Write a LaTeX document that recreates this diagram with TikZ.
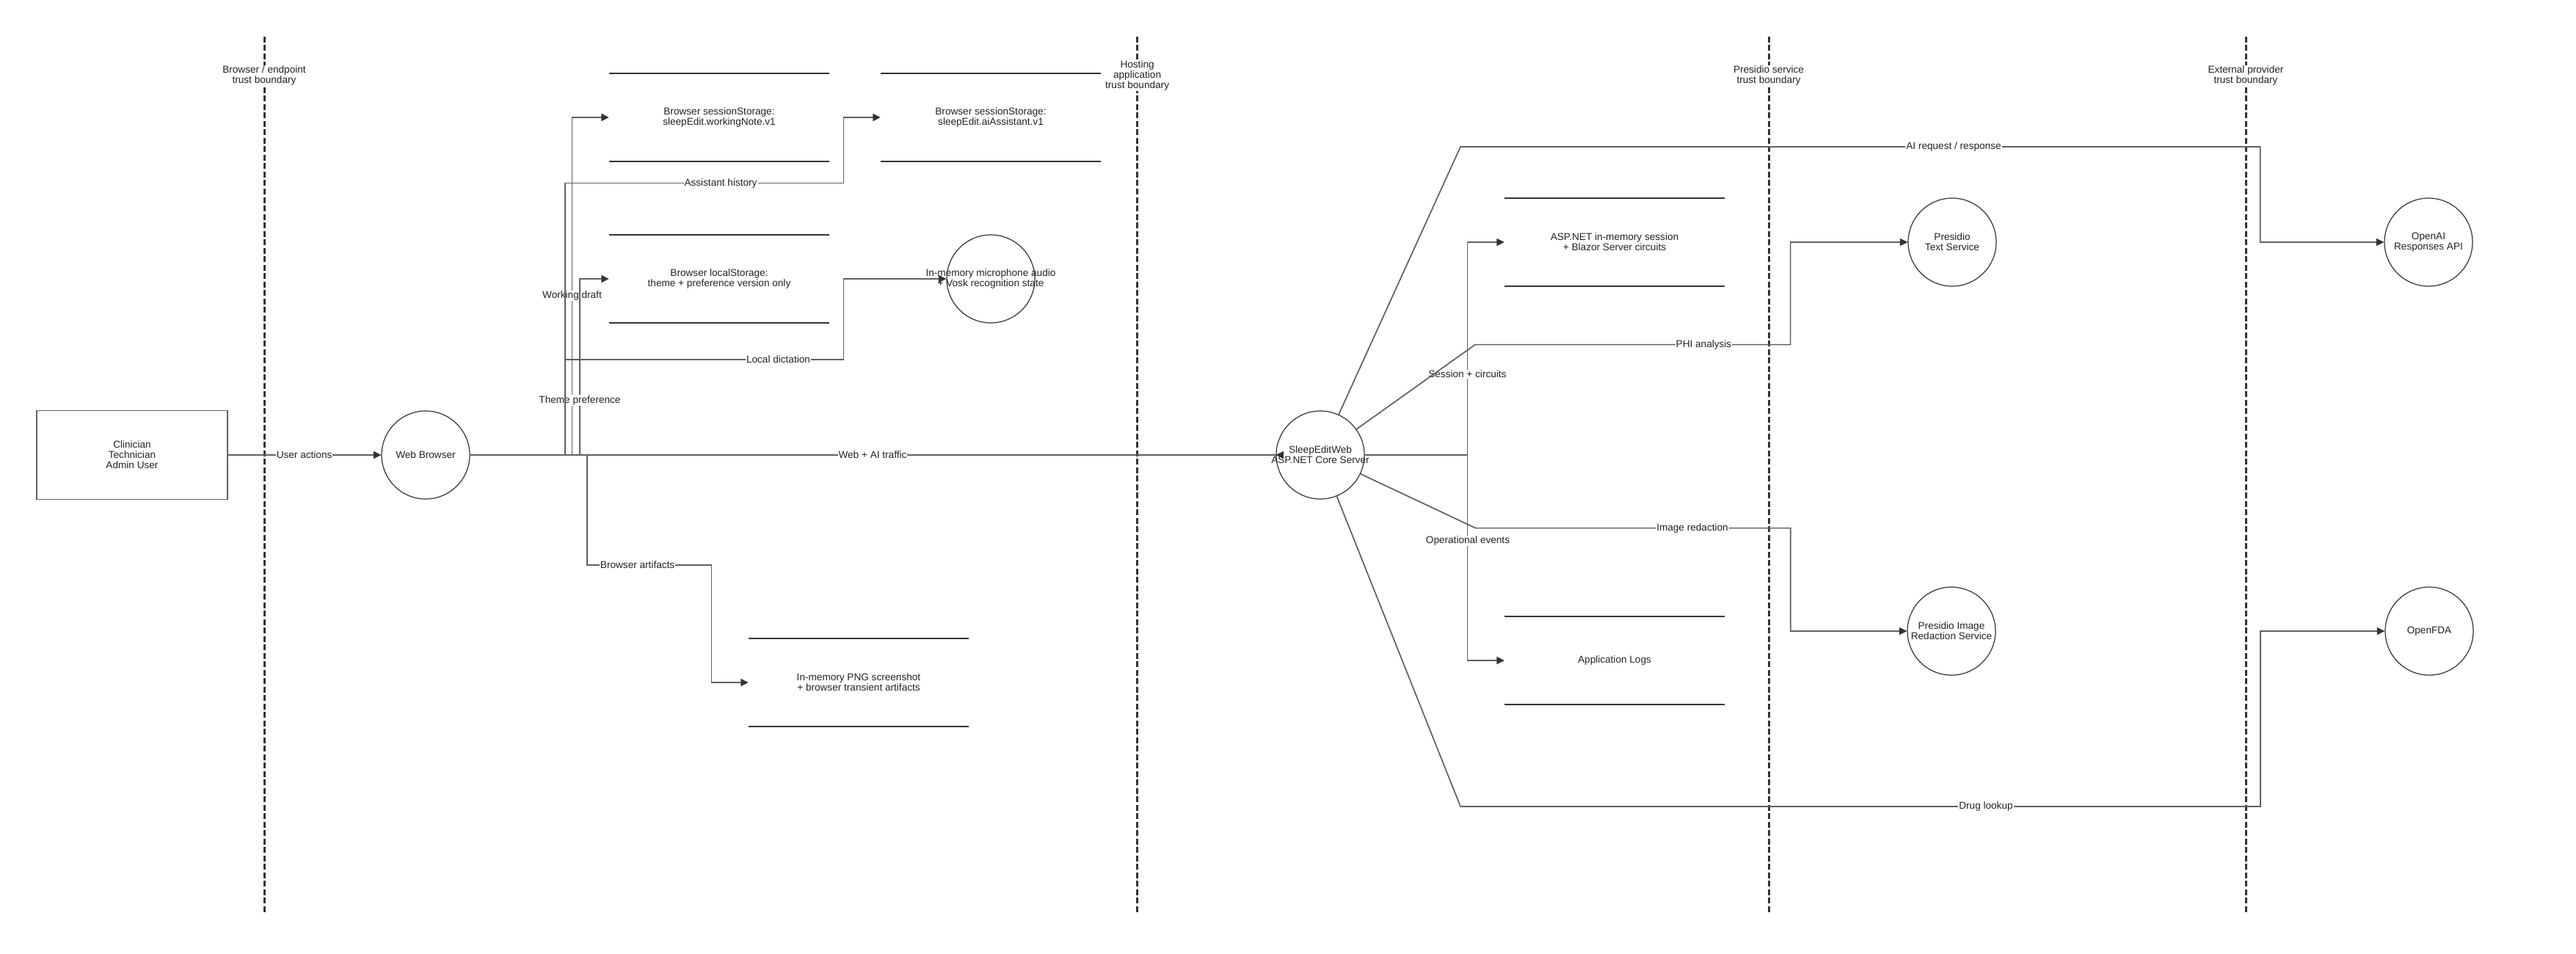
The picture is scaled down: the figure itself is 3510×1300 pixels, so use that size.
\documentclass[tikz,border=0pt]{standalone}
\usepackage{fontspec}
\setmainfont{Liberation Sans}
\usetikzlibrary{arrows.meta}
\definecolor{edgec}{HTML}{606060}
\definecolor{darkc}{HTML}{333333}
\definecolor{txtc}{HTML}{222222}
\tikzset{
  base/.style={font=\fontsize{13.6}{14}\selectfont, text=txtc},
  actorbox/.style={base, draw=edgec, line width=1.6pt, minimum width=260pt, minimum height=121pt, align=center, inner sep=0pt},
  proc/.style={circle, draw=darkc, line width=1.2pt, minimum size=120pt, inner sep=0pt},
  ptext/.style={base, align=center, inner sep=0pt},
  store/.style={base, minimum width=300pt, minimum height=120pt, align=center, inner sep=0pt},
  storeline/.style={draw=darkc, line width=2.2pt},
  edge/.style={draw=edgec, line width=1.7pt, -{Triangle[length=10.5pt,width=10pt,color=darkc]}},
  lbl/.style={base, fill=white, inner sep=1pt, align=center},
  bound/.style={draw=darkc, line width=3pt, dash pattern=on 8pt off 3.5pt},
  blbl/.style={base, fill=white, inner sep=1pt, align=center},
}
\begin{document}
\begin{tikzpicture}[x=1pt,y=-1pt]
\useasboundingbox (0,0) rectangle (3510,1300);

% trust boundaries
\coordinate (b1t) at (360,50);   \coordinate (b1b) at (360,1245);
\coordinate (b2t) at (1549.6,50); \coordinate (b2b) at (1549.6,1245);
\coordinate (b3t) at (2410,50);  \coordinate (b3b) at (2410,1245);
\coordinate (b4t) at (3060,50);  \coordinate (b4b) at (3060,1245);
\draw[bound] (b1t) -- (b1b);
\draw[bound] (b2t) -- (b2b);
\draw[bound] (b3t) -- (b3b);
\draw[bound] (b4t) -- (b4b);
\node[blbl] (bl1) at (360,103) {Browser / endpoint\\trust boundary};
\node[blbl] (bl2) at (1549.6,103) {Hosting\\application\\trust boundary};
\node[blbl] (bl3) at (2410,103) {Presidio service\\trust boundary};
\node[blbl] (bl4) at (3060,103) {External provider\\trust boundary};

% nodes
\node[actorbox] (actor) at (180,620) {Clinician\\Technician\\Admin User};
\node[proc] (wb) at (580,620) {};
\node[ptext] (wbt) at (wb) {Web Browser};
\node[proc] (mic) at (1350,380) {};
\node[proc] (srv) at (1799,620) {};
\node[proc] (pts) at (2660,330) {};
\node[ptext] (ptst) at (pts) {Presidio\\Text Service};
\node[proc] (oai) at (3309,330) {};
\node[ptext] (oait) at (oai) {OpenAI\\Responses API};
\node[proc] (pis) at (2659,860) {};
\node[ptext] (pist) at (pis) {Presidio Image\\Redaction Service};
\node[proc] (fda) at (3310,860) {};
\node[ptext] (fdat) at (fda) {OpenFDA};

\node[store] (s1) at (980,160) {Browser sessionStorage:\\sleepEdit.workingNote.v1};
\node[store] (s2) at (1350,160) {Browser sessionStorage:\\sleepEdit.aiAssistant.v1};
\node[store] (s3) at (980,380) {Browser localStorage:\\theme + preference version only};
\node[store] (png) at (1170,930) {In-memory PNG screenshot\\+ browser transient artifacts};
\node[store] (asp) at (2200,330) {ASP.NET in-memory session\\+ Blazor Server circuits};
\node[store] (logs) at (2200,900) {Application Logs};
\foreach \s in {s1,s2,s3,png,asp,logs}{
  \draw[storeline] (\s.north west) -- (\s.north east);
  \draw[storeline] (\s.south west) -- (\s.south east);
}

% edges from actor / browser, each with its label
\draw[edge] (actor.east) -- (wb.west);
\node[lbl] (l1) at (414.6,620) {User actions};
\draw[edge] (wb.east) -- (1739,620) -- (srv.west);
\node[lbl] (l6) at (1189,620) {Web + AI traffic};
\draw[edge] (wb.east) -- (779.5,620) |- (s1.west);
\node[lbl] (l2) at (779.5,403) {Working draft};
\draw[edge] (wb.east) -- (790,620) |- (s3.west);
\node[lbl] (l4) at (790,545.5) {Theme preference};
\draw[edge] (wb.east) -- (770,620) -- (770,249.5) -- (1149.4,249.5) |- (s2.west);
\node[lbl] (l3) at (982,249.5) {Assistant history};
\draw[edge] (wb.east) -- (770,620) -- (770,489.7) -- (1149.4,489.7) |- (mic.west);
\node[lbl] (l5) at (1060.5,489.7) {Local dictation};
\draw[edge] (wb.east) -- (800,620) -- (800,769.8) -- (969.6,769.8) |- (png.west);
\node[lbl] (l7) at (868.6,769.8) {Browser artifacts};

% edges from server, each with its label
\draw[edge] (srv.east) -- (1999.4,620) |- (asp.west);
\node[lbl] (l10) at (1999.4,510) {Session + circuits};
\draw[edge] (srv.east) -- (1999.4,620) |- (logs.west);
\node[lbl] (l11) at (2000,737) {Operational events};
\draw[edge] (srv) -- (2010,469.6) -- (2439.6,469.6) |- (pts.west);
\node[lbl] (l9) at (2321.5,469.6) {PHI analysis};
\draw[edge] (srv) -- (1990,200) -- (3079.7,200) |- (oai.west);
\node[lbl] (l8) at (2662,200) {AI request / response};
\draw[edge] (srv) -- (2010.6,719.6) -- (2439.8,719.6) |- (pis.west);
\node[lbl] (l12) at (2306,719.6) {Image redaction};
\draw[edge] (srv) -- (1990,1099) -- (3080,1099) |- (fda.west);
\node[lbl] (l13) at (2706,1099) {Drug lookup};

% texts over circles
\node[ptext] (mict) at (mic) {In-memory microphone audio\\+ Vosk recognition state};
\node[ptext] (srvt) at (srv) {SleepEditWeb\\ASP.NET Core Server};
\end{tikzpicture}
\end{document}
